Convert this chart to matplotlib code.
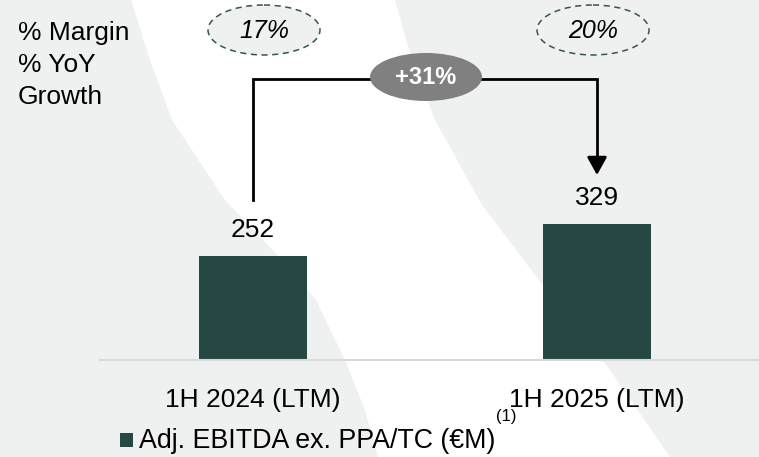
import matplotlib.pyplot as plt
from matplotlib.patches import Ellipse, Polygon, Rectangle

plt.rcParams['font.family'] = ['Liberation Sans', 'DejaVu Sans']

# data
categories = ['1H 2024 (LTM)', '1H 2025 (LTM)']
ebitda = [252, 329]
margins = ['17%', '20%']
growth = '+31%'
legend_label = 'Adj. EBITDA ex. PPA/TC (€M)'
side_labels = ['% Margin', '% YoY', 'Growth']

W, H = 759, 457
teal = '#264845'
bg_gray = '#eff1f0'

fig = plt.figure(figsize=(W / 100, H / 100), dpi=100, facecolor=bg_gray)

# background swoosh (pixel coords)
bg = fig.add_axes([0, 0, 1, 1], zorder=0)
bg.set_xlim(0, W)
bg.set_ylim(H, 0)
bg.axis('off')
left_edge = [(131, 0), (150, 60), (172, 120), (225, 200), (280, 258),
             (316, 300), (345, 360), (365, 410), (378, 457)]
right_edge = [(670, 457), (610, 370), (548, 292), (482, 205), (435, 120),
              (412, 60), (395, 0)]
bg.add_patch(Polygon(left_edge + right_edge, closed=True, facecolor='white',
                     edgecolor='none'))

# main bar axes: baseline at y=360px, bars centred at 253 and 597px
ppu = 0.412            # pixels per EUR M
px_per_x = 344.0
x_left, x_right = 100, W
base_px = 360
ax = fig.add_axes([x_left / W, (H - base_px) / H, (x_right - x_left) / W, base_px / H],
                  zorder=1)
ax.set_facecolor('none')
ax.set_xlim((x_left - 253) / px_per_x, (x_right - 253) / px_per_x)
ax.set_ylim(0, base_px / ppu)

xs = list(range(len(categories)))
ax.bar(xs, ebitda, width=108 / px_per_x, color=teal, zorder=2)
for x, v in zip(xs, ebitda):
    ax.text(x, v + 26 / ppu, str(v), ha='center', va='center', fontsize=19, color='black')

for s in ['top', 'right', 'left']:
    ax.spines[s].set_visible(False)
ax.spines['bottom'].set_color('#d9d9d9')
ax.spines['bottom'].set_linewidth(1.5)
ax.set_yticks([])
ax.set_xticks(xs)
ax.set_xticklabels(categories, fontsize=19)
ax.tick_params(axis='x', length=0, pad=20)

# growth connector
y_start = ebitda[0] + 136
y_top = (base_px - 79) / ppu
y_tip = ebitda[1] + 120
ax.plot([0, 0, 1, 1], [y_start, y_top, y_top, y_tip + 30], color='black', lw=2,
        solid_joinstyle='miter', clip_on=False, zorder=3)
ax.annotate('', xy=(1, y_tip), xytext=(1, y_tip + 40),
            arrowprops=dict(arrowstyle='-|>,head_length=1.08,head_width=0.6',
                            color='black', lw=2, shrinkA=0, shrinkB=0,
                            mutation_scale=10),
            annotation_clip=False, zorder=3)

# overlay in pixel coords
ov = fig.add_axes([0, 0, 1, 1], zorder=3)
ov.set_facecolor('none')
ov.set_xlim(0, W)
ov.set_ylim(H, 0)
ov.axis('off')

for i, t in enumerate(side_labels):
    ov.text(18, 33 + 32 * i, t, ha='left', va='center', fontsize=19, color='black')

for cx, m in zip([264, 593], margins):
    ov.add_patch(Ellipse((cx, 30), 112, 50, facecolor=bg_gray, edgecolor='#35554f',
                         lw=1.1, linestyle=(0, (4, 3))))
    ov.text(cx, 31, m, ha='center', va='center', fontsize=18, style='italic',
            color='black')

ov.add_patch(Ellipse((426, 77), 112, 48, facecolor='#808080', edgecolor='none'))
ov.text(426, 78, growth, ha='center', va='center', fontsize=17, fontweight='bold',
        color='white')

# legend
ov.add_patch(Rectangle((120, 433), 13, 14, facecolor=teal, edgecolor='none'))
ov.text(139, 441, legend_label, ha='left', va='center', fontsize=19.3, color='black')
ov.text(496, 417, '(1)', ha='left', va='center', fontsize=12, color='black')

fig.savefig('out.png', dpi=100, facecolor=bg_gray)
